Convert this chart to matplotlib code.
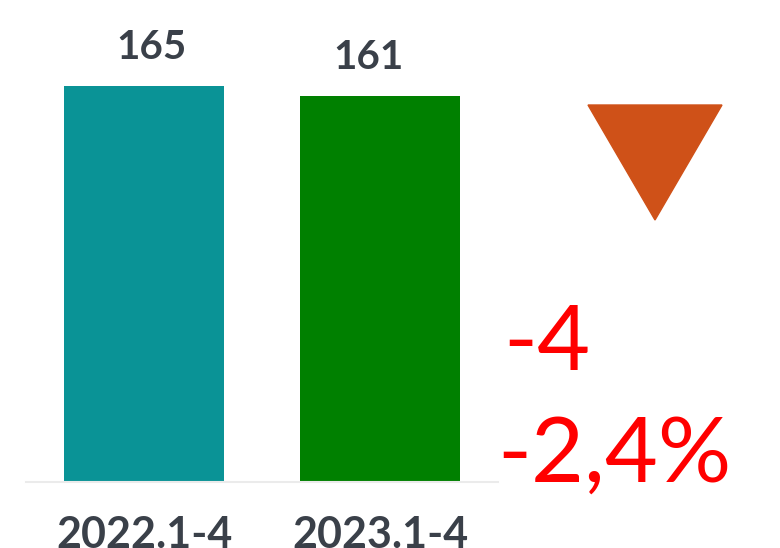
import matplotlib
matplotlib.use('Agg')
import matplotlib.pyplot as plt
from matplotlib.patches import Polygon

periods = ['2022.1-4', '2023.1-4']
values = [165, 161]
bar_colors = ['#0A9396', '#008000']
label_dx = [7, -12]  # value labels sit a bit off-centre in the original
change_abs = '-4'
change_pct = '-2,4%'

fig = plt.figure(figsize=(7.8, 5.48), dpi=100)
ax = fig.add_axes([26 / 780, 66 / 548, 472 / 780, 482 / 548])

x = list(range(len(values)))
bars = ax.bar(x, values, width=0.678, color=bar_colors)
ax.set_xlim(-0.5, 1.5)
ax.set_ylim(0, 200.8)

for b, v, dx in zip(bars, values, label_dx):
    ax.annotate(str(v), (b.get_x() + b.get_width() / 2, v),
                xytext=(dx * 0.72, 14), textcoords='offset points',
                ha='center', va='bottom', fontsize=29, fontweight='bold',
                family='Lato', color='#3A4049')

for s in ['top', 'right', 'left']:
    ax.spines[s].set_visible(False)
ax.spines['bottom'].set_color('#EBEBEB')
ax.spines['bottom'].set_linewidth(1.5)
ax.set_yticks([])
ax.set_xticks(x)
ax.set_xticklabels(periods, fontsize=31, fontweight='bold', family='Lato', color='#3A4049')
ax.tick_params(axis='x', length=0, pad=24)

# down arrow marker
tri = Polygon([(588 / 780, 1 - 105 / 548), (722 / 780, 1 - 105 / 548), (655 / 780, 1 - 220 / 548)],
              closed=True, transform=fig.transFigure, color='#CF5118')
fig.patches.append(tri)

fig.text(503 / 780, 1 - 370 / 548, change_abs, fontsize=66, family='Lato', color='#FF0000',
         ha='left', va='baseline')
fig.text(497 / 780, 1 - 482 / 548, change_pct, fontsize=66, family='Lato', color='#FF0000',
         ha='left', va='baseline')

fig.savefig('out.png', dpi=100)
